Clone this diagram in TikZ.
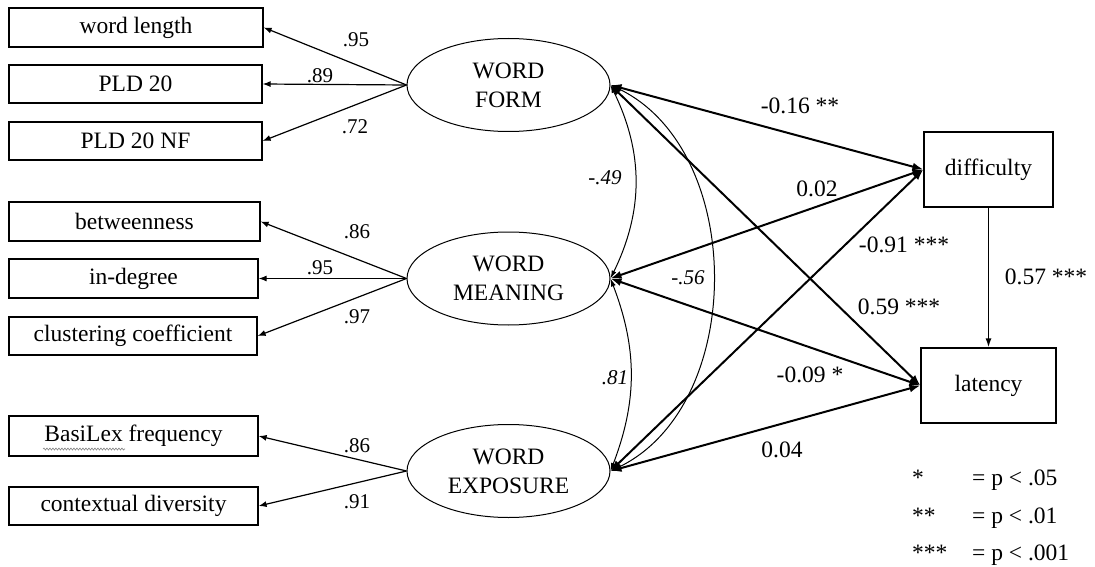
\documentclass[tikz,border=0pt]{standalone}
\usepackage{fontspec}
\setmainfont{Liberation Serif}
\usetikzlibrary{arrows.meta,shapes.geometric,decorations.pathmorphing}
\begin{document}
\begin{tikzpicture}[x=1pt,y=-1pt,
  font=\fontsize{23.5}{28}\selectfont,
  box/.style={draw,line width=1.2pt,rectangle,inner sep=0pt,align=center},
  latent/.style={draw,line width=1pt,ellipse,minimum width=203pt,minimum height=93pt,inner sep=0pt,align=center,font=\fontsize{23.5}{29}\selectfont},
  loadar/.style={line width=1.2pt,-{Latex[length=8pt,width=6pt]}},
  pathar/.style={line width=2pt,{Latex[length=11pt,width=8pt]}-{Latex[length=11pt,width=8pt]}},
  corrar/.style={line width=1pt,{Latex[length=8pt,width=5pt]}-{Latex[length=8pt,width=5pt]}},
  lbl/.style={inner sep=0pt,font=\fontsize{21}{24}\selectfont},
  plbl/.style={inner sep=0pt},
  clbl/.style={inner sep=0pt,font=\fontsize{21}{24}\selectfont\itshape}]
\useasboundingbox (0,0) rectangle (1095,567);

% indicator boxes
\node[box,minimum width=254pt,minimum height=39pt] (wl) at (136,27.5) {word length};
\node[box,minimum width=253pt,minimum height=38pt] (pld) at (135.5,84) {PLD 20};
\node[box,minimum width=253pt,minimum height=38pt] (pldnf) at (135.5,141) {PLD 20 NF};
\node[box,minimum width=251pt,minimum height=39pt] (betw) at (134.5,221.5) {betweenness};
\node[box,minimum width=249pt,minimum height=39pt] (indeg) at (133.5,278.5) {in-degree};
\node[box,minimum width=248pt,minimum height=38pt] (clust) at (133,336) {clustering coefficient};
\node[box,minimum width=249pt,minimum height=40pt] (basi) at (133.5,436) {BasiLex frequency};
\node[box,minimum width=249pt,minimum height=38pt] (ctx) at (133.5,506) {contextual diversity};
\draw[gray,line width=0.6pt,decorate,decoration={snake,amplitude=1pt,segment length=3pt}] (43,449) -- (125,449);

% latent variables
\node[latent] (form) at (508.5,85) {WORD\\FORM};
\node[latent] (mean) at (508.5,278.5) {WORD\\MEANING};
\node[latent] (expo) at (508.5,471) {WORD\\EXPOSURE};

% outcomes
\node[box,minimum width=129pt,minimum height=75pt] (diff) at (988.5,169.5) {difficulty};
\node[box,minimum width=135pt,minimum height=75pt] (lat) at (988.5,385.5) {latency};

% loadings
\draw[loadar] (form.west) -- (wl.east);
\draw[loadar] (form.west) -- (pld.east);
\draw[loadar] (form.west) -- (pldnf.east);
\draw[loadar] (mean.west) -- (betw.east);
\draw[loadar] (mean.west) -- (indeg.east);
\draw[loadar] (mean.west) -- (clust.east);
\draw[loadar] (expo.west) -- (basi.east);
\draw[loadar] (expo.west) -- (ctx.east);

\node[lbl] (l1) at (356,40) {.95};
\node[lbl] (l2) at (320,76) {.89};
\node[lbl] (l3) at (355,127) {.72};
\node[lbl] (l4) at (357,232) {.86};
\node[lbl] (l5) at (320,268) {.95};
\node[lbl] (l6) at (357,317) {.97};
\node[lbl] (l7) at (357,446) {.86};
\node[lbl] (l8) at (357,502) {.91};

% correlations
\draw[corrar] (form.east) to[bend left=26] (mean.east);
\draw[corrar] (mean.east) to[bend left=21] (expo.east);
\draw[corrar] (form.east) to[bend left=65] (expo.east);
\node[clbl] (c1) at (605,178) {-.49};
\node[clbl] (c2) at (688,278) {-.56};
\node[clbl] (c3) at (615,378) {.81};

% structural paths
\draw[pathar] (form.east) -- (diff.west);
\draw[pathar] (mean.east) -- (diff.west);
\draw[pathar] (expo.east) -- (diff.west);
\draw[pathar] (form.east) -- (lat.west);
\draw[pathar] (mean.east) -- (lat.west);
\draw[pathar] (expo.east) -- (lat.west);
\draw[line width=1.5pt,-{Latex[length=9pt,width=6pt]}] (diff.south) -- (lat.north);

\node[plbl] (p1) at (800,106) {-0.16 **};
\node[plbl] (p2) at (817,189) {0.02};
\node[plbl] (p3) at (904,245) {-0.91 ***};
\node[plbl] (p4) at (899,307) {0.59 ***};
\node[plbl] (p5) at (1046,277) {0.57 ***};
\node[plbl] (p6) at (810,375) {-0.09 *};
\node[plbl] (p7) at (782,450) {0.04};

% legend
\node[inner sep=0pt,anchor=base west] (s1) at (912,485) {*};
\node[inner sep=0pt,anchor=base west] (s2) at (912,523) {**};
\node[inner sep=0pt,anchor=base west] (s3) at (912,560) {***};
\node[inner sep=0pt,anchor=base west] (t1) at (972,485) {= p < .05};
\node[inner sep=0pt,anchor=base west] (t2) at (972,523) {= p < .01};
\node[inner sep=0pt,anchor=base west] (t3) at (972,560) {= p < .001};
\end{tikzpicture}
\end{document}
